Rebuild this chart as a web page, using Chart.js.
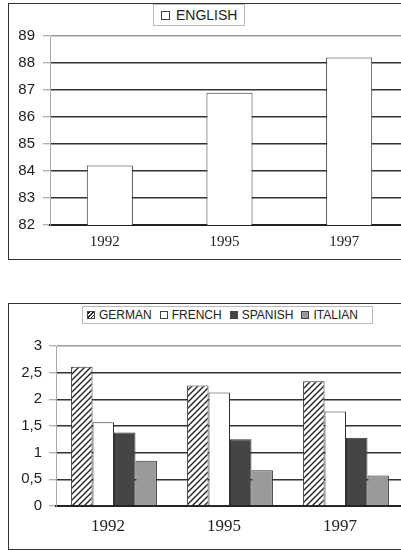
<!DOCTYPE html>
<html>
<head>
<meta charset="utf-8">
<script src="https://cdn.jsdelivr.net/npm/chart.js@4/dist/chart.umd.min.js"></script>
<style>
  html, body { margin: 0; padding: 0; overflow: hidden; background: #fff; width: 401px; height: 550px; }
  body { position: relative; font-family: "Liberation Sans", Arial, sans-serif; }
  .frame { position: absolute; border: 1px solid #333; box-sizing: border-box; }
  #frame-top { left: 8px; top: 3px; width: 420px; height: 257px; }
  #frame-bottom { left: 8px; top: 303px; width: 420px; height: 247px; }
  canvas { position: absolute; left: 0; }
  #chart-top { top: 0; }
  #chart-bottom { top: 290px; }
  .legend { position: absolute; background: #fff; border: 1px solid #bbb; display: flex; align-items: center; color: #222; box-sizing: border-box; white-space: nowrap; }
  #legend-top { left: 153px; top: 4px; width: 92px; height: 22px; font-size: 14px; padding-left: 7px; }
  #legend-bottom { left: 82px; top: 306px; width: 291px; height: 18px; font-size: 12px; padding-left: 4px; }
  .item { display: flex; align-items: center; margin-right: 8px; }
  .swatch { display: inline-block; box-sizing: border-box; border: 1px solid #444; margin-right: 5px; }
  #legend-top .swatch { width: 9px; height: 9px; margin-right: 6px; }
  #legend-bottom .swatch { width: 8px; height: 8px; margin-right: 4px; }
</style>
</head>
<body>
<div class="frame" id="frame-top"></div>
<div class="frame" id="frame-bottom"></div>
<canvas id="chart-top" width="420" height="262"></canvas>
<canvas id="chart-bottom" width="420" height="260"></canvas>
<div class="legend" id="legend-top"></div>
<div class="legend" id="legend-bottom"></div>
<script>
const years = ["1992", "1995", "1997"];

// top chart
const englishValues = [84.2, 86.9, 88.2];
const englishTicks = { min: 82, max: 89, step: 1 };

// bottom chart
const languages = ["GERMAN", "FRENCH", "SPANISH", "ITALIAN"];
const germanValues = [2.61, 2.26, 2.34];
const frenchValues = [1.57, 2.13, 1.77];
const spanishValues = [1.38, 1.25, 1.28];
const italianValues = [0.85, 0.67, 0.57];
const otherTicks = { min: 0, max: 3, step: 0.5 };

function hatchPattern() {
  const c = document.createElement("canvas");
  c.width = 6;
  c.height = 6;
  const g = c.getContext("2d");
  g.fillStyle = "#fff";
  g.fillRect(0, 0, 6, 6);
  g.strokeStyle = "#222";
  g.lineWidth = 1.4;
  g.beginPath();
  g.moveTo(0, 6); g.lineTo(6, 0);
  g.moveTo(-1, 1); g.lineTo(1, -1);
  g.moveTo(5, 7); g.lineTo(7, 5);
  g.stroke();
  return g.createPattern(c, "repeat");
}

function gridColor(max) {
  return (ctx) => (ctx.tick && ctx.tick.value === max ? "#999" : "#333");
}

function makeOptions({ ticks, yWidth, yPad, xPad, labelOffset, padding, xFont, yFont, fmt }) {
  return {
    responsive: false,
    animation: false,
    layout: { padding },
    plugins: { legend: { display: false }, tooltip: { enabled: false } },
    scales: {
      x: {
        grid: { display: false, drawTicks: false },
        border: { color: "#222", width: 2 },
        ticks: { color: "#222", font: xFont, padding: xPad, labelOffset },
        afterFit: (s) => { s.height = 30; },
      },
      y: {
        min: ticks.min,
        max: ticks.max,
        grid: { color: gridColor(ticks.max), lineWidth: 1.5, tickLength: 7, tickColor: "#999", tickWidth: 1 },
        border: { color: "#aaa", width: 1 },
        ticks: { stepSize: ticks.step, color: "#222", font: yFont, padding: yPad, callback: fmt },
        afterFit: (s) => { s.width = yWidth; },
      },
    },
  };
}

new Chart(document.getElementById("chart-top"), {
  type: "bar",
  data: {
    labels: years,
    datasets: [{
      label: "ENGLISH",
      data: englishValues,
      backgroundColor: "#fff",
      borderColor: "#333",
      borderWidth: 1,
      barPercentage: 0.385,
      categoryPercentage: 1,
    }],
  },
  options: makeOptions({
    ticks: englishTicks,
    yWidth: 50,
    yPad: 8,
    xPad: 8,
    labelOffset: -5,
    padding: { top: 36, bottom: 7, left: 0, right: 11 },
    xFont: { family: "Liberation Serif", size: 15 },
    yFont: { family: "Liberation Sans", size: 15 },
    fmt: (v) => v,
  }),
});

const hatch = hatchPattern();
const fills = [hatch, "#fff", "#454545", "#9a9a9a"];
const series = [germanValues, frenchValues, spanishValues, italianValues];

new Chart(document.getElementById("chart-bottom"), {
  type: "bar",
  data: {
    labels: years,
    datasets: languages.map((name, i) => ({
      label: name,
      data: series[i],
      backgroundColor: fills[i],
      borderColor: "#333",
      borderWidth: 1,
      barPercentage: 1,
      categoryPercentage: 0.74,
    })),
  },
  options: makeOptions({
    ticks: otherTicks,
    yWidth: 56,
    yPad: 7,
    xPad: 10,
    labelOffset: -6,
    padding: { top: 56, bottom: 14, left: 0, right: 16 },
    xFont: { family: "Liberation Serif", size: 17 },
    yFont: { family: "Liberation Sans", size: 15 },
    fmt: (v) => String(v).replace(".", ","),
  }),
});

// legends
const swatchCss = [
  "background: repeating-linear-gradient(-45deg, #fff 0 1.5px, #222 1.5px 2.7px);",
  "background: #fff;",
  "background: #454545;",
  "background: #9a9a9a;",
];
document.getElementById("legend-top").innerHTML =
  `<span class="item"><span class="swatch" style="background:#fff"></span>ENGLISH</span>`;
document.getElementById("legend-bottom").innerHTML = languages
  .map((name, i) => `<span class="item"><span class="swatch" style="${swatchCss[i]}"></span>${name}</span>`)
  .join("");
</script>
</body>
</html>
